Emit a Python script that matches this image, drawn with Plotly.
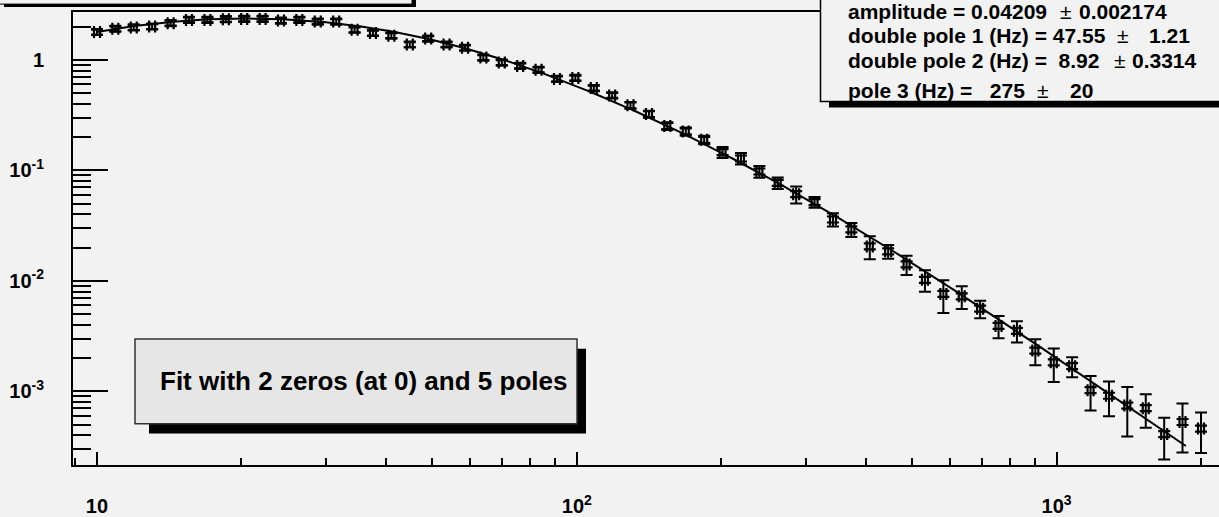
import numpy as np
import plotly.graph_objects as go

# ---------------- data ----------------
freq_hz = [10.00, 10.92, 11.93, 13.03, 14.24, 15.55, 16.99, 18.56, 20.27, 22.14,
           24.18, 26.41, 28.85, 31.52, 34.43, 37.60, 41.07, 44.87, 49.01, 53.53,
           58.48, 63.87, 69.77, 76.21, 83.24, 90.93, 99.32, 108.5, 118.5, 129.4,
           141.4, 154.4, 168.7, 184.3, 201.3, 219.9, 240.2, 262.3, 286.6, 313.0,
           341.9, 373.5, 408.0, 445.6, 486.8, 531.7, 580.8, 634.4, 692.9, 756.9,
           826.8, 903.1, 986.5, 1077.5, 1177, 1286, 1404, 1534, 1676, 1830, 2000]

response = [1.787, 1.912, 1.965, 2.005, 2.150, 2.301, 2.301, 2.334, 2.349, 2.349,
            2.268, 2.301, 2.222, 2.222, 1.874, 1.751, 1.657, 1.377, 1.558, 1.377,
            1.287, 1.048, 0.946, 0.882, 0.813, 0.672, 0.686, 0.555, 0.477, 0.388,
            0.323, 0.252, 0.225, 0.189, 0.146, 0.128, 0.0976, 0.0770, 0.0609, 0.0516,
            0.0359, 0.0292, 0.0205, 0.0185, 0.01409, 0.01021, 0.00761, 0.00725, 0.00560, 0.00391,
            0.00353, 0.00234, 0.00183, 0.00169, 0.001025, 0.000912, 0.000743, 0.000704, 0.000410, 0.000528,
            0.000460]

response_err = [0.089, 0.096, 0.098, 0.100, 0.108, 0.115, 0.115, 0.117, 0.117, 0.117,
                0.113, 0.115, 0.111, 0.111, 0.094, 0.088, 0.083, 0.069, 0.078, 0.069,
                0.064, 0.052, 0.047, 0.044, 0.041, 0.034, 0.034, 0.028, 0.024, 0.027,
                0.024, 0.020, 0.019, 0.017, 0.0164, 0.0153, 0.0117, 0.0092, 0.0107, 0.0058,
                0.0049, 0.0042, 0.0048, 0.00264, 0.0028, 0.00224, 0.0025, 0.0017, 0.00102, 0.00089,
                0.00077, 0.00062, 0.000614, 0.000347, 0.000353, 0.000317, 0.000353, 0.000236, 0.000168, 0.000248,
                0.000183]

# fit parameters (as printed in the stats box)
fit_amplitude = 0.04209
fit_double_pole_1 = 47.55
fit_double_pole_2 = 8.92
fit_pole_3 = 275.0
fit_range = [10.0, 1860.0]

stat_names = ["amplitude = 0.04209", "double pole 1 (Hz) = 47.55",
              "double pole 2 (Hz) =  8.92", "pole 3 (Hz) =   275"]
stat_errors = ["0.002174", "1.21", "0.3314", "20"]

x_tick_vals = [10, 100, 1000]
x_tick_text = ["10", "10<sup>2</sup>", "10<sup>3</sup>"]
y_tick_vals = [1, 0.1, 0.01, 0.001]
y_tick_text = ["1", "10<sup>-1</sup>", "10<sup>-2</sup>", "10<sup>-3</sup>"]

label_text = "Fit with 2 zeros (at 0) and 5 poles"

# ---------------- fit curve (model with printed parameters) ----------------
fit_f = np.logspace(np.log10(fit_range[0]), np.log10(fit_range[1]), 500)
fit_y = (fit_amplitude * fit_f**2
         / ((1 + (fit_f / fit_double_pole_1) ** 2)
            * (1 + (fit_f / fit_double_pole_2) ** 2)
            * np.sqrt(1 + (fit_f / fit_pole_3) ** 2)))

# ---------------- layout geometry ----------------
W, H = 1219, 517
ML, MR, MT, MB = 73, 0, 12, 45
PW, PH = W - ML - MR, H - MT - MB
BG = "#f2f2f2"
FONT = "Liberation Sans"


def px(p):
    return (p - ML) / PW


def py(p):
    return (H - MB - p) / PH


fig = go.Figure()

fig.add_trace(go.Scatter(
    x=fit_f, y=fit_y, mode="lines",
    line=dict(color="black", width=2), hoverinfo="skip", showlegend=False))

fig.add_trace(go.Scatter(
    x=freq_hz, y=response, mode="markers",
    marker=dict(symbol="hash", size=12, color="black",
                line=dict(width=2.2, color="black")),
    error_y=dict(type="data", array=response_err, symmetric=True,
                 color="black", thickness=2, width=6),
    showlegend=False))

shapes = []
# title box (top-left, mostly cut off)
shapes.append(dict(type="rect", xref="paper", yref="paper",
                   x0=px(4), x1=px(416), y0=py(7), y1=py(-30),
                   fillcolor="black", line=dict(width=0)))
shapes.append(dict(type="rect", xref="paper", yref="paper",
                   x0=px(-10), x1=px(412), y0=py(4), y1=py(-30),
                   fillcolor=BG, line=dict(width=1, color="black")))
# stats box (top-right)
shapes.append(dict(type="rect", xref="paper", yref="paper",
                   x0=px(829), x1=px(1240), y0=py(109), y1=py(-30),
                   fillcolor="black", line=dict(width=0)))
shapes.append(dict(type="rect", xref="paper", yref="paper",
                   x0=px(820.5), x1=px(1240), y0=py(103), y1=py(-30),
                   fillcolor=BG, line=dict(width=1.5, color="black")))
# fit label box
shapes.append(dict(type="rect", xref="paper", yref="paper",
                   x0=px(149), x1=px(586), y0=py(440), y1=py(354),
                   fillcolor="black", line=dict(width=0)))
shapes.append(dict(type="rect", xref="paper", yref="paper",
                   x0=px(135), x1=px(577), y0=py(430), y1=py(344),
                   fillcolor="#e6e6e6", line=dict(width=1.5, color="#333333")))

annotations = []
stat_baselines = [18.0, 43.3, 68.3, 99.0]
stat_pm_x = [1058, 1115, 1112, 1035]
stat_err_x = [1077, 1147, 1130, 1068]
fs = 21
for name, err, yb, xpm, xe in zip(stat_names, stat_errors, stat_baselines,
                                  stat_pm_x, stat_err_x):
    yc = py(yb - 0.33 * fs)
    annotations.append(dict(x=px(846), y=yc, xref="paper", yref="paper",
                            text=name, showarrow=False, xanchor="left",
                            yanchor="middle",
                            font=dict(family=FONT, size=fs, color="black",
                                      weight="bold")))
    annotations.append(dict(x=px(xpm), y=yc, xref="paper", yref="paper",
                            text="\u00b1", showarrow=False, xanchor="left",
                            yanchor="middle",
                            font=dict(family=FONT, size=fs, color="black")))
    annotations.append(dict(x=px(xe), y=yc, xref="paper", yref="paper",
                            text=err, showarrow=False, xanchor="left",
                            yanchor="middle",
                            font=dict(family=FONT, size=fs, color="black",
                                      weight="bold")))

annotations.append(dict(x=px(363.3), y=py(395 - 0.33 * 26), xref="paper",
                        yref="paper", text=label_text, showarrow=False,
                        xanchor="center", yanchor="middle",
                        font=dict(family=FONT, size=26, color="black",
                                  weight="bold")))

fig.update_layout(
    width=W, height=H,
    margin=dict(l=ML, r=MR, t=MT, b=MB, pad=0),
    paper_bgcolor=BG, plot_bgcolor=BG,
    shapes=shapes, annotations=annotations,
    showlegend=False,
    xaxis=dict(type="log", range=[0.95, 3.3385],
               showline=True, linewidth=2, linecolor="black", mirror=True,
               showgrid=False, zeroline=False,
               ticks="inside", ticklen=13, tickwidth=1.5, tickcolor="black",
               tickmode="array", tickvals=x_tick_vals, ticktext=x_tick_text,
               tickfont=dict(family=FONT, size=20, color="black", weight="bold"),
               ticklabelstandoff=22,
               minor=dict(ticks="inside", ticklen=7, tickwidth=1.5,
                          tickcolor="black", dtick="D1", showgrid=False)),
    yaxis=dict(type="log", range=[-3.6667, 0.4332],
               showline=True, linewidth=2, linecolor="black", mirror=False,
               showgrid=False, zeroline=False,
               ticks="inside", ticklen=35, tickwidth=2, tickcolor="black",
               tickmode="array", tickvals=y_tick_vals, ticktext=y_tick_text,
               tickfont=dict(family=FONT, size=20, color="black", weight="bold"),
               ticklabelstandoff=23,
               minor=dict(ticks="inside", ticklen=18, tickwidth=2,
                          tickcolor="black", dtick="D1", showgrid=False)),
)

fig.write_html("out.html")
